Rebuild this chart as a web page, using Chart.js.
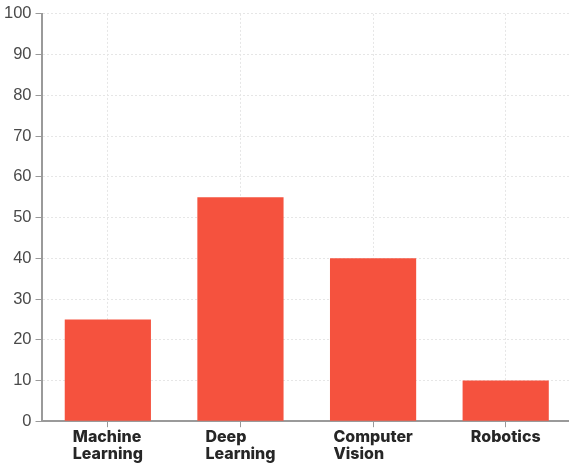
<!DOCTYPE html>
<html>
<head>
<meta charset="utf-8">
<script src="https://cdn.jsdelivr.net/npm/chart.js@4/dist/chart.umd.min.js"></script>
<style>
  html, body { margin: 0; padding: 0; background: #fff; overflow: hidden; }
  #wrap { width: 574px; height: 464px; }
</style>
</head>
<body>
<div id="wrap"><canvas id="myChart"></canvas></div>
<script>
const categories = [['Machine', 'Learning'], ['Deep', 'Learning'], ['Computer', 'Vision'], ['Robotics']];
const values = [25, 55, 40, 10];
const yTicks = [0, 10, 20, 30, 40, 50, 60, 70, 80, 90, 100];

const labelFont = '800 16px Inter';
const labelLineHeight = 17;

// draw the category labels as left-aligned blocks centred under each tick
const leftLabels = {
    id: 'leftLabels',
    afterDraw(chart) {
        const xs = chart.scales.x;
        const c = chart.ctx;
        c.save();
        c.font = labelFont;
        c.fillStyle = '#262626';
        c.textAlign = 'left';
        c.textBaseline = 'alphabetic';
        categories.forEach((lines, i) => {
            const w = Math.max(...lines.map(l => c.measureText(l).width));
            const cx = xs.getPixelForTick(i);
            lines.forEach((l, j) => {
                c.fillText(l, cx - w / 2, xs.top + 21 + j * labelLineHeight);
            });
        });
        c.restore();
    }
};

const ctx = document.getElementById('myChart');

new Chart(ctx, {
    type: 'bar',
    data: {
        labels: categories,
        datasets: [{
            data: values,
            backgroundColor: '#f5523e',
            borderWidth: 0,
            categoryPercentage: 0.65,
            barPercentage: 1
        }]
    },
    options: {
        responsive: true,
        maintainAspectRatio: false,
        animation: false,
        layout: { padding: { top: 11, right: 2, left: 0, bottom: 0 } },
        plugins: {
            legend: { display: false },
            tooltip: { enabled: false }
        },
        scales: {
            x: {
                grid: {
                    offset: false,
                    color: '#e6e6e6',
                    tickColor: '#999',
                    tickLength: 6,
                    tickBorderDash: [],
                    lineWidth: 1
                },
                border: { color: '#9a9a9a', width: 2, dash: [2, 2] },
                ticks: {
                    color: 'rgba(0,0,0,0)',
                    font: { family: 'Inter', size: 16, weight: '800', lineHeight: 0.9 },
                    maxRotation: 0,
                    padding: 4
                }
            },
            y: {
                min: 0,
                max: 100,
                afterBuildTicks: axis => { axis.ticks = yTicks.map(v => ({ value: v })); },
                grid: {
                    color: '#e6e6e6',
                    tickColor: '#999',
                    tickLength: 6,
                    tickBorderDash: [],
                    lineWidth: 1
                },
                border: { color: '#9a9a9a', width: 2, dash: [2, 2] },
                ticks: {
                    color: '#4a4a4a',
                    font: { family: 'Liberation Sans', size: 16.5 },
                    padding: 4
                }
            }
        }
    },
    plugins: [leftLabels]
});
</script>
</body>
</html>
